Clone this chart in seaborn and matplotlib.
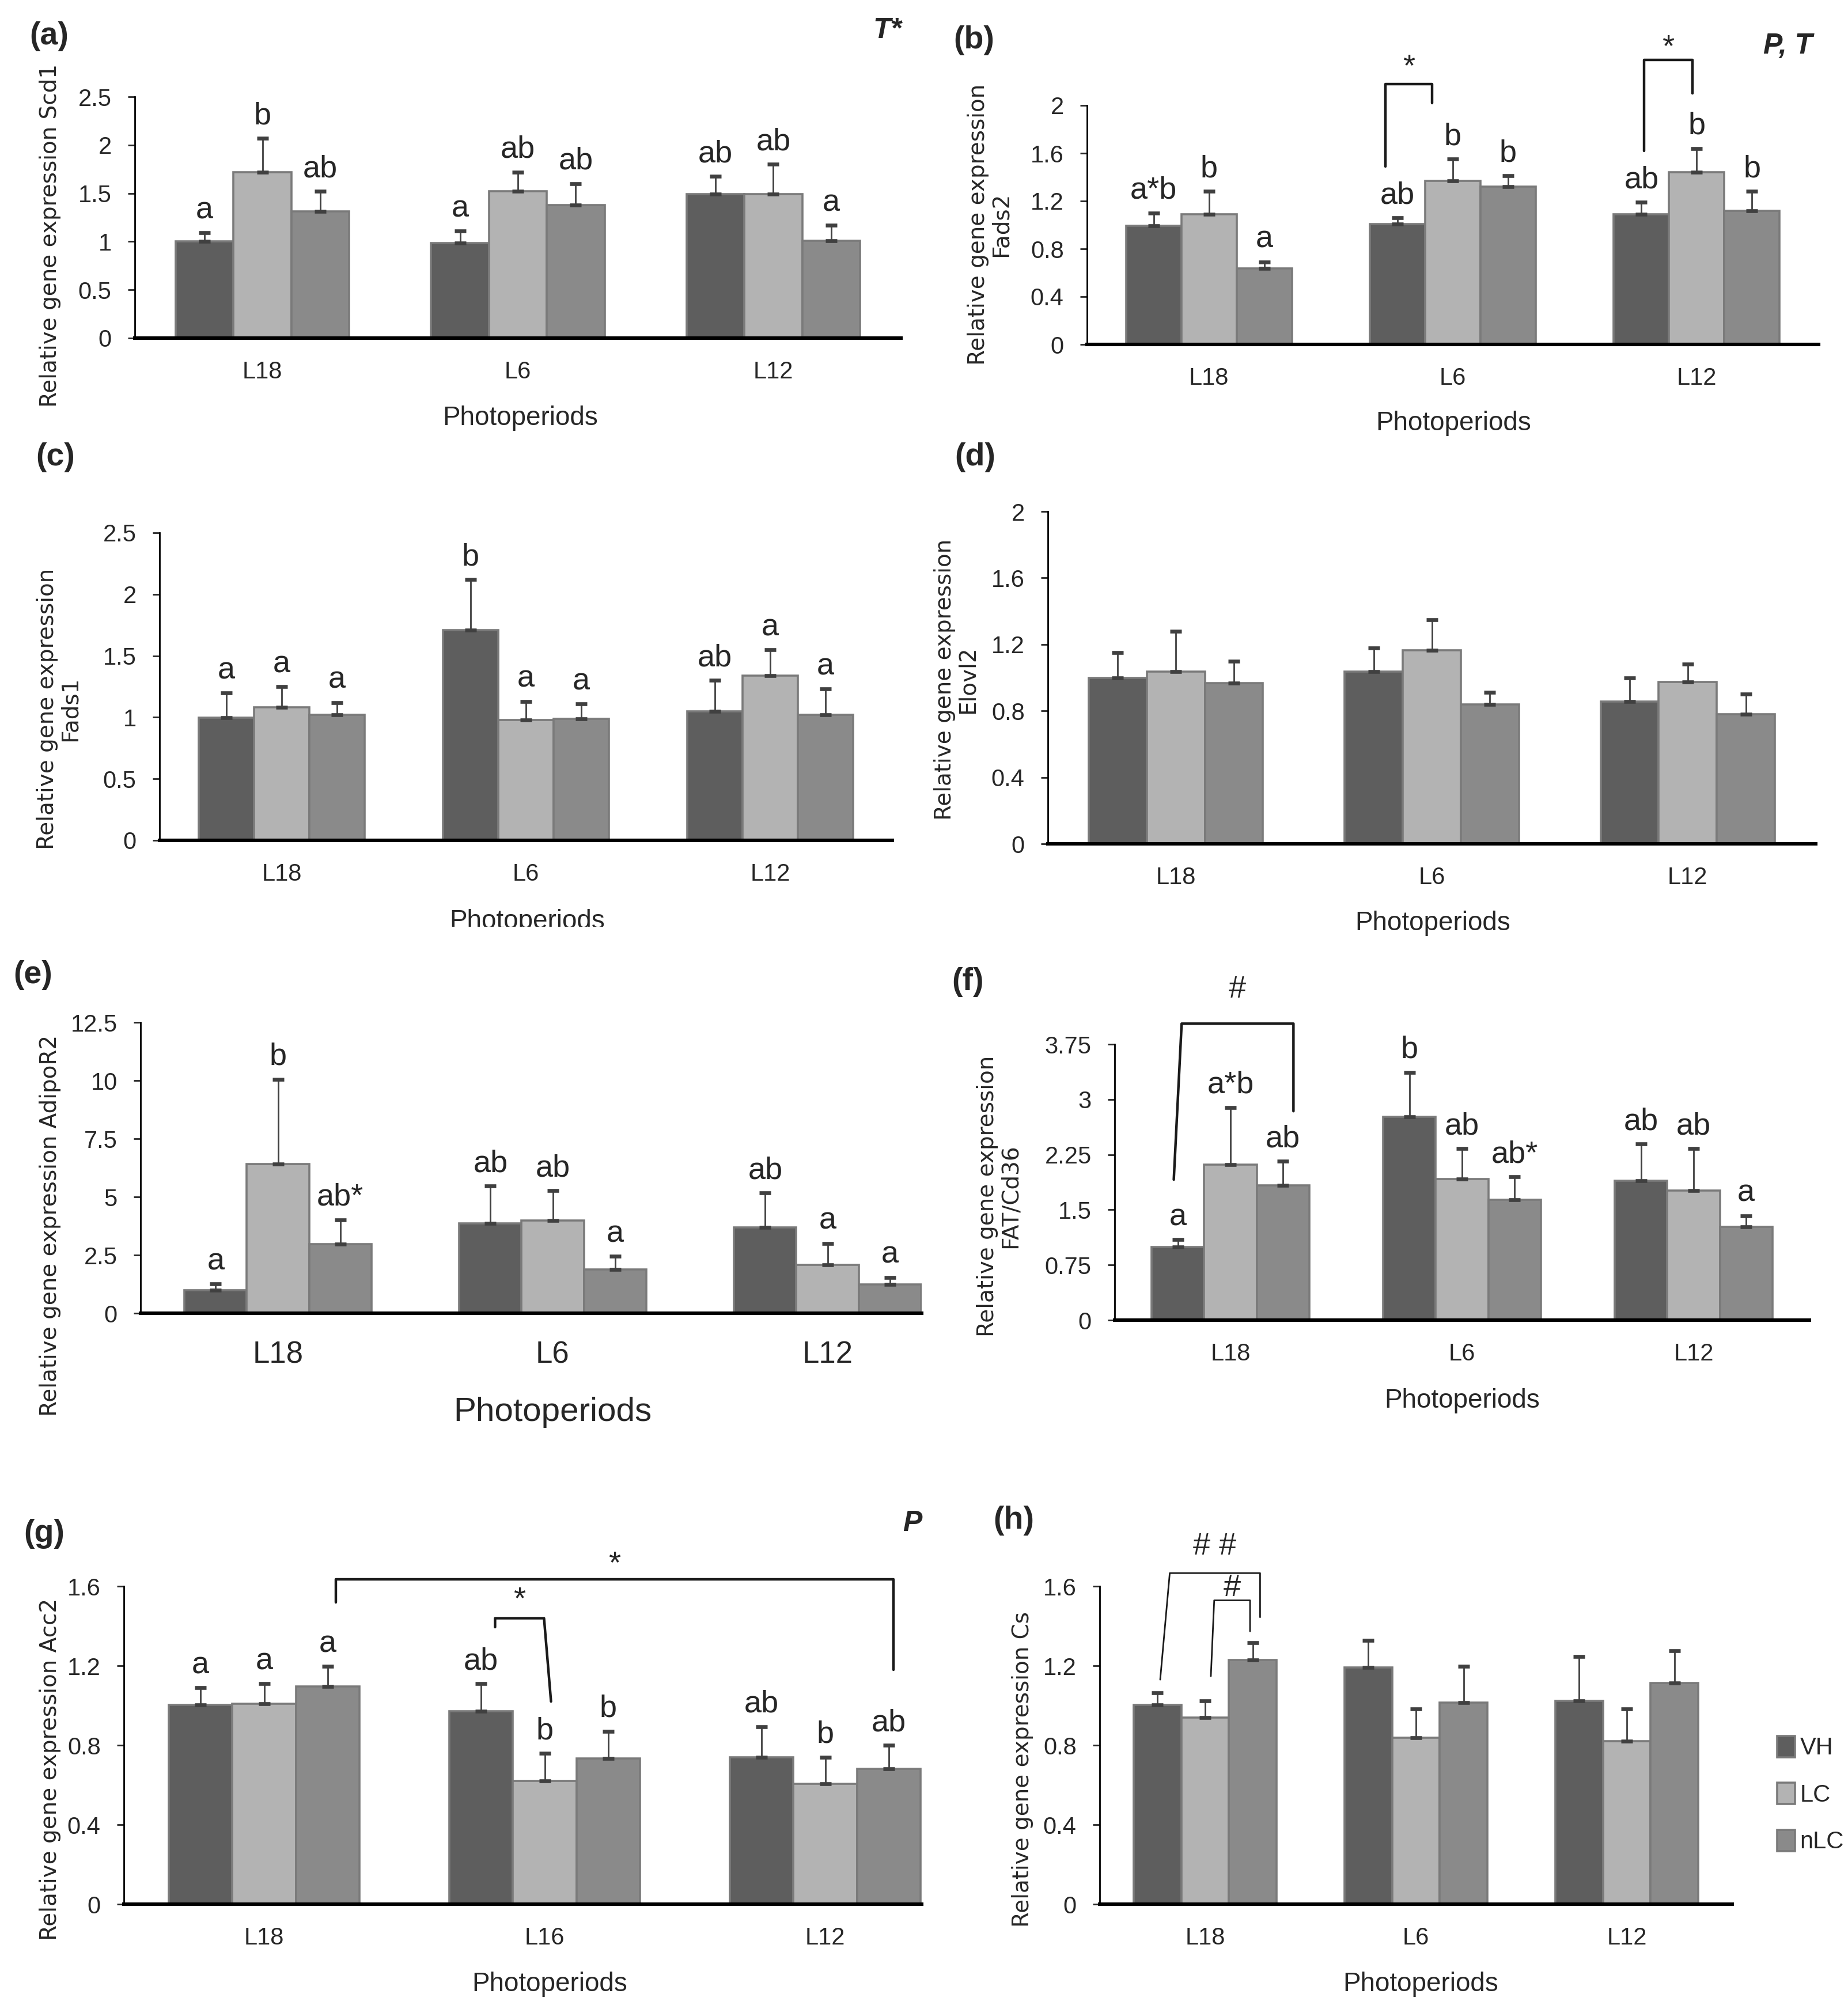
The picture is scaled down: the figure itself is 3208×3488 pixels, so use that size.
import numpy as np
import pandas as pd
import matplotlib
matplotlib.use("Agg")
import matplotlib.pyplot as plt
from matplotlib.patches import Patch
from matplotlib.container import BarContainer
from matplotlib.transforms import Bbox, TransformedBbox
import seaborn as sns

# ---- data (rows = VH, LC, nLC ; columns = photoperiods) ----
periods = ["L18", "L6", "L12"]
periods_acc2 = ["L18", "L16", "L12"]
groups = ["VH", "LC", "nLC"]
group_colors = ["#5e5e5e", "#b3b3b3", "#8a8a8a"]

scd1_mean = [[1.00, 0.985, 1.49], [1.72, 1.52, 1.49], [1.31, 1.38, 1.01]]
scd1_err = [[0.09, 0.125, 0.185], [0.35, 0.20, 0.31], [0.21, 0.22, 0.16]]
scd1_letters = [["a", "a", "ab"], ["b", "ab", "ab"], ["ab", "ab", "a"]]
scd1_ticks = [0, 0.5, 1, 1.5, 2, 2.5]

fads2_mean = [[0.995, 1.007, 1.09], [1.09, 1.37, 1.44], [0.634, 1.32, 1.12]]
fads2_err = [[0.105, 0.053, 0.10], [0.19, 0.18, 0.20], [0.056, 0.09, 0.16]]
fads2_letters = [["a*b", "ab", "ab"], ["b", "b", "b"], ["a", "b", "b"]]
fads2_ticks = [0, 0.4, 0.8, 1.2, 1.6, 2]

fads1_mean = [[0.998, 1.71, 1.05], [1.08, 0.98, 1.34], [1.02, 0.99, 1.02]]
fads1_err = [[0.20, 0.41, 0.25], [0.17, 0.15, 0.21], [0.10, 0.12, 0.21]]
fads1_letters = [["a", "b", "ab"], ["a", "a", "a"], ["a", "a", "a"]]
fads1_ticks = [0, 0.5, 1, 1.5, 2, 2.5]

elovl2_mean = [[1.00, 1.036, 0.856], [1.036, 1.163, 0.975], [0.968, 0.84, 0.78]]
elovl2_err = [[0.15, 0.144, 0.142], [0.244, 0.187, 0.105], [0.132, 0.07, 0.12]]
elovl2_ticks = [0, 0.4, 0.8, 1.2, 1.6, 2]

adipor2_mean = [[0.98, 3.87, 3.70], [6.42, 3.98, 2.09], [2.97, 1.89, 1.23]]
adipor2_err = [[0.28, 1.60, 1.47], [3.64, 1.29, 0.91], [1.05, 0.55, 0.31]]
adipor2_letters = [["a", "ab", "ab"], ["b", "ab", "a"], ["ab*", "a", "a"]]
adipor2_ticks = [0, 2.5, 5, 7.5, 10, 12.5]

fat_mean = [[0.994, 2.76, 1.895], [2.11, 1.92, 1.76], [1.83, 1.64, 1.27]]
fat_err = [[0.10, 0.61, 0.50], [0.78, 0.41, 0.57], [0.33, 0.31, 0.15]]
fat_letters = [["a", "b", "ab"], ["a*b", "ab", "ab"], ["ab", "ab*", "a"]]
fat_ticks = [0, 0.75, 1.5, 2.25, 3, 3.75]

acc2_mean = [[1.003, 0.97, 0.739], [1.01, 0.619, 0.607], [1.097, 0.734, 0.68]]
acc2_err = [[0.087, 0.14, 0.155], [0.10, 0.14, 0.133], [0.10, 0.136, 0.12]]
acc2_letters = [["a", "ab", "ab"], ["a", "b", "b"], ["a", "b", "ab"]]
acc2_ticks = [0, 0.4, 0.8, 1.2, 1.6]

cs_mean = [[1.003, 1.19, 1.023], [0.94, 0.838, 0.82], [1.229, 1.015, 1.114]]
cs_err = [[0.06, 0.138, 0.223], [0.083, 0.144, 0.162], [0.086, 0.181, 0.16]]
cs_ticks = [0, 0.4, 0.8, 1.2, 1.6]

# significance brackets: (cat, hue, shift bottom, shift top) for both legs,
# leg heights, top height, text and text height
fads2_brackets = [
    ((1, 0, -0.22, -0.22), (1, 1, -0.38, -0.38), 1.49, 2.18, 2.02, "*", 2.32),
    ((2, 0, 0.05, 0.05), (2, 1, -0.08, -0.08), 1.62, 2.38, 2.10, "*", 2.48),
]
fat_brackets = [((0, 0, -0.08, 0.07), (0, 2, 0.2, 0.2), 1.91, 4.03, 2.84, "#", 4.49)]
acc2_brackets = [
    ((0, 2, 0.13, 0.13), (2, 2, 0.07, 0.07), 1.518, 1.634, 1.18, "*", 1.71),
    ((1, 0, 0.22, 0.22), (1, 1, 0.10, -0.01), 1.394, 1.439, 1.02, "*", 1.53),
]
cs_brackets = [
    ((0, 0, 0.06, 0.26), (0, 2, 0.15, 0.15), 1.13, 1.666, 1.444, "# #", 1.80),
    ((0, 1, 0.12, 0.19), (0, 2, -0.06, -0.06), 1.147, 1.529, 1.373, "#", 1.59),
]

W, H = 3208, 3488
NARROW = ["Liberation Sans Narrow", "Liberation Sans", "DejaVu Sans"]
WIDE = ["DejaVu Sans"]
LETTER_SIZE = 19.5


def fxy(x, y):
    return x / W, 1 - y / H


def make_frame(cats, means):
    rows = []
    for g, row in zip(groups, means):
        for c, v in zip(cats, row):
            rows.append({"period": c, "group": g, "value": v})
    return pd.DataFrame(rows)


def bar_center(bars, cat, hue, shift):
    p = bars[hue][cat]
    return p.get_x() + p.get_width() / 2 + shift * p.get_width()


def draw_panel(fig, p):
    x0, x1, yz, yt = p["box"]
    ax = fig.add_axes([x0 / W, 1 - yz / H, (x1 - x0) / W, (yz - yt) / H])
    cats = p["cats"]
    df = make_frame(cats, p["mean"])
    sns.barplot(data=df, x="period", y="value", hue="group", order=cats,
                hue_order=groups, palette=group_colors, width=0.68,
                errorbar=None, saturation=1, edgecolor="#7a7a7a",
                linewidth=1.3, legend=False, ax=ax)
    bars = [c for c in ax.containers if isinstance(c, BarContainer)]
    for j, cont in enumerate(bars):
        xs = [b.get_x() + b.get_width() / 2 for b in cont]
        tops = [b.get_height() for b in cont]
        errs = p["err"][j]
        ax.errorbar(xs, tops, yerr=[np.zeros(len(errs)), errs], fmt="none",
                    ecolor="#404040", elinewidth=1.0, capsize=3.5,
                    capthick=2.4, zorder=3)
        if p.get("letters"):
            for x, t, e, lab in zip(xs, tops, errs, p["letters"][j]):
                ax.annotate(lab, (x, t + e), xytext=(0, 5),
                            textcoords="offset points", ha="center",
                            va="bottom", fontsize=LETTER_SIZE, family=NARROW,
                            annotation_clip=False)
    for a, b, ya, ytop, yb, txt, ty in p.get("brackets", []):
        xa0 = bar_center(bars, a[0], a[1], a[2])
        xa1 = bar_center(bars, a[0], a[1], a[3])
        xb0 = bar_center(bars, b[0], b[1], b[2])
        xb1 = bar_center(bars, b[0], b[1], b[3])
        ax.plot([xa0, xa1, xb1, xb0], [ya, ytop, ytop, yb], color="#1a1a1a",
                lw=p.get("blw", 1.6), clip_on=False, zorder=4)
        ax.text((xa1 + xb1) / 2, ty, txt, ha="center", va="center",
                fontsize=LETTER_SIZE, family=NARROW, clip_on=False)

    ax.set_xlim(-0.5, p.get("xmax", 2.5))
    ax.set_ylim(0, p["ticks"][-1])
    ax.set_yticks(p["ticks"])
    ax.set_yticklabels(["{:g}".format(t) for t in p["ticks"]])
    ax.set_xlabel("")
    ax.set_ylabel("")
    for s in ["top", "right"]:
        ax.spines[s].set_visible(False)
    ax.spines["bottom"].set_linewidth(2.2)
    ax.spines["left"].set_linewidth(1.0)
    ax.spines["bottom"].set_color("black")
    ax.spines["left"].set_color("black")
    ax.tick_params(axis="x", length=0, pad=p.get("xpad", 14),
                   labelsize=p.get("xsize", 15))
    ax.tick_params(axis="y", length=4.5, width=1.0, pad=10, labelsize=15,
                   direction="out", left=True)
    for lab in ax.get_xticklabels() + ax.get_yticklabels():
        lab.set_family(NARROW)

    fig.text(*fxy(*p["label_xy"]), p["label"], ha="left", va="center",
             fontsize=20, fontweight="bold", family=NARROW)
    if p.get("stat"):
        fig.text(*fxy(*p["stat_xy"]), p["stat"], ha="right", va="center",
                 fontsize=18, fontweight="bold", fontstyle="italic",
                 family=NARROW)
    fig.text(*fxy(*p["ylabel_xy"]), p["ylabel"], rotation=90, ha="center",
             va="center", multialignment="center", linespacing=1.05,
             fontsize=14, family=WIDE)
    xl = fig.text(*fxy(*p["xlabel_xy"]), "Photoperiods", ha="center",
                  va="center", fontsize=p.get("xlsize", 16.5), family=NARROW)
    if p.get("xl_cut"):
        # the reference hides the lower part of this title
        cut = Bbox([[0, 1 - p["xl_cut"] / H], [1, 1]])
        xl.set_clip_box(TransformedBbox(cut, fig.transFigure))
        xl.set_clip_on(True)
    return ax


def main():
    sns.set_style("white")
    plt.rcParams["font.family"] = NARROW
    fig = plt.figure(figsize=(W / 200, H / 200), dpi=200)

    panels = [
        dict(box=(234, 1564, 587, 168), cats=periods, mean=scd1_mean,
             err=scd1_err, letters=scd1_letters, ticks=scd1_ticks,
             label="(a)", label_xy=(51, 63), stat="T*", stat_xy=(1565, 53),
             ylabel="Relative gene expression Scd1", ylabel_xy=(87, 409),
             xlabel_xy=(903, 726)),
        dict(box=(1887, 3157, 598, 183), cats=periods, mean=fads2_mean,
             err=fads2_err, letters=fads2_letters, ticks=fads2_ticks,
             brackets=fads2_brackets,
             label="(b)", label_xy=(1655, 70), stat="P, T", stat_xy=(3146, 80),
             ylabel="Relative gene expression\nFads2", ylabel_xy=(1718, 390),
             xlabel_xy=(2523, 735)),
        dict(box=(277, 1549, 1459, 925), cats=periods, mean=fads1_mean,
             err=fads1_err, letters=fads1_letters, ticks=fads1_ticks,
             label="(c)", label_xy=(62, 794),
             ylabel="Relative gene expression\nFads1", ylabel_xy=(102, 1231),
             xlabel_xy=(915, 1600), xl_cut=1609),
        dict(box=(1819, 3152, 1465, 888), cats=periods, mean=elovl2_mean,
             err=elovl2_err, ticks=elovl2_ticks,
             label="(d)", label_xy=(1657, 794),
             ylabel="Relative gene expression\nElovl2", ylabel_xy=(1660, 1180),
             xlabel_xy=(2487, 1603)),
        dict(box=(244, 1600, 2280, 1775), cats=periods, mean=adipor2_mean,
             err=adipor2_err, letters=adipor2_letters, ticks=adipor2_ticks,
             xmax=-0.5 + 1356 / 477, xsize=19, xpad=17, xlsize=21,
             label="(e)", label_xy=(23, 1693),
             ylabel="Relative gene expression AdipoR2", ylabel_xy=(87, 2128),
             xlabel_xy=(959, 2452)),
        dict(box=(1935, 3141, 2292, 1813), cats=periods, mean=fat_mean,
             err=fat_err, letters=fat_letters, ticks=fat_ticks,
             brackets=fat_brackets,
             label="(f)", label_xy=(1652, 1705),
             ylabel="Relative gene expression\nFAT/Cd36", ylabel_xy=(1734, 2077),
             xlabel_xy=(2538, 2432)),
        dict(box=(215, 1600, 3306, 2754), cats=periods_acc2, mean=acc2_mean,
             err=acc2_err, letters=acc2_letters, ticks=acc2_ticks,
             brackets=acc2_brackets, xmax=-0.5 + 1385 / 487,
             label="(g)", label_xy=(41, 2663), stat="P", stat_xy=(1600, 2645),
             ylabel="Relative gene expression Acc2", ylabel_xy=(87, 3072),
             xlabel_xy=(954, 3445)),
        dict(box=(1909, 3007, 3306, 2754), cats=periods, mean=cs_mean,
             err=cs_err, ticks=cs_ticks, brackets=cs_brackets, blw=1.0,
             label="(h)", label_xy=(1724, 2640),
             ylabel="Relative gene expression Cs", ylabel_xy=(1775, 3072),
             xlabel_xy=(2466, 3445)),
    ]
    for p in panels:
        draw_panel(fig, p)

    handles = [Patch(facecolor=c, edgecolor="#7a7a7a", linewidth=1.3, label=g)
               for c, g in zip(group_colors, groups)]
    fig.legend(handles=handles, loc="center left",
               bbox_to_anchor=fxy(3085, 3116), frameon=False, fontsize=15,
               handlelength=0.75, handleheight=1.0, handletextpad=0.2,
               labelspacing=0.95, borderaxespad=0, borderpad=0)

    fig.savefig("out.png", dpi=200, facecolor="white")


if __name__ == "__main__":
    main()
